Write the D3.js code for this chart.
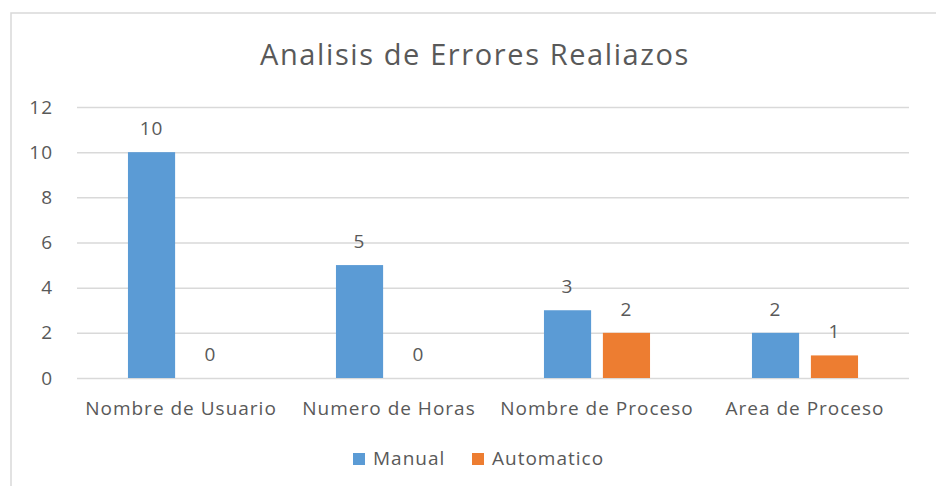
<!DOCTYPE html>
<html>
<head>
    <title>Analisis de Errores Realiazos</title>
    <script src="https://d3js.org/d3.v7.min.js"></script>
    <style>
        body {
            margin: 0;
            padding: 0;
            background: #ffffff;
            overflow: hidden;
        }
        text {
            font-family: "Open Sans", "Noto Sans", sans-serif;
            fill: #595959;
            letter-spacing: 1px;
        }
    </style>
</head>
<body>
    <div id="chart"></div>
    <script>
        const categories = ['Nombre de Usuario', 'Numero de Horas', 'Nombre de Proceso', 'Area de Proceso'];
        const seriesNames = ['Manual', 'Automatico'];
        const manual = [10, 5, 3, 2];
        const automatico = [0, 0, 2, 1];
        const yTicks = [0, 2, 4, 6, 8, 10, 12];
        const colors = ['#5b9bd5', '#ed7d31'];

        const width = 936;
        const height = 486;
        const plot = { left: 77, right: 909, top: 107, bottom: 378 };
        const fontSize = 19;

        const svg = d3.select('#chart')
            .append('svg')
            .attr('width', width)
            .attr('height', height);

        // chart frame (runs off the right / bottom edge like the screenshot)
        svg.append('rect')
            .attr('x', 11)
            .attr('y', 13)
            .attr('width', 940)
            .attr('height', 490)
            .attr('fill', 'none')
            .attr('stroke', '#d9d9d9')
            .attr('stroke-width', 1.5);

        const y = d3.scaleLinear()
            .domain([0, 12])
            .range([plot.bottom, plot.top]);

        const x0 = d3.scaleBand()
            .domain(categories)
            .range([plot.left, plot.right])
            .paddingInner(0.49)
            .paddingOuter(0.245);

        const x1 = d3.scaleBand()
            .domain(seriesNames)
            .range([0, x0.bandwidth()])
            .paddingInner(0.2);

        // gridlines + y labels
        const yAxis = svg.append('g')
            .attr('transform', `translate(${plot.left},0)`)
            .call(d3.axisLeft(y).tickValues(yTicks).tickSize(-(plot.right - plot.left)).tickPadding(24));
        yAxis.select('.domain').remove();
        yAxis.selectAll('line').attr('stroke', '#d9d9d9').attr('stroke-width', 1.5);
        yAxis.selectAll('text')
            .attr('font-size', fontSize)
            .style('font-family', '"Open Sans", sans-serif')
            .attr('fill', '#595959');

        // bars
        const rows = categories.map((c, i) => ({ cat: c, values: [manual[i], automatico[i]] }));

        const groups = svg.append('g')
            .selectAll('g')
            .data(rows)
            .join('g')
            .attr('transform', d => `translate(${x0(d.cat)},0)`);

        groups.selectAll('rect')
            .data(d => d.values.map((v, j) => ({ key: seriesNames[j], value: v, j })))
            .join('rect')
            .attr('x', d => x1(d.key))
            .attr('y', d => y(d.value))
            .attr('width', x1.bandwidth())
            .attr('height', d => y(0) - y(d.value))
            .attr('fill', d => colors[d.j]);

        groups.selectAll('text.val')
            .data(d => d.values.map((v, j) => ({ key: seriesNames[j], value: v })))
            .join('text')
            .attr('class', 'val')
            .attr('x', d => x1(d.key) + x1.bandwidth() / 2)
            .attr('y', d => y(d.value) - 17)
            .attr('text-anchor', 'middle')
            .attr('font-size', fontSize)
            .text(d => d.value);

        // category labels
        svg.append('g')
            .selectAll('text')
            .data(categories)
            .join('text')
            .attr('x', d => x0(d) + x0.bandwidth() / 2)
            .attr('y', 415)
            .attr('text-anchor', 'middle')
            .attr('font-size', fontSize)
            .text(d => d);

        // title
        svg.append('text')
            .attr('x', 475)
            .attr('y', 65)
            .attr('text-anchor', 'middle')
            .attr('font-size', 29)
            .style('letter-spacing', '1.6px')
            .text('Analisis de Errores Realiazos');

        // legend
        const legendX = [353, 472];
        const legend = svg.append('g')
            .selectAll('g')
            .data(seriesNames)
            .join('g')
            .attr('transform', (d, i) => `translate(${legendX[i]},453)`);
        legend.append('rect')
            .attr('width', 12)
            .attr('height', 12)
            .attr('fill', (d, i) => colors[i]);
        legend.append('text')
            .attr('x', 20)
            .attr('y', 12)
            .attr('font-size', fontSize)
            .text(d => d);
    </script>
</body>
</html>
